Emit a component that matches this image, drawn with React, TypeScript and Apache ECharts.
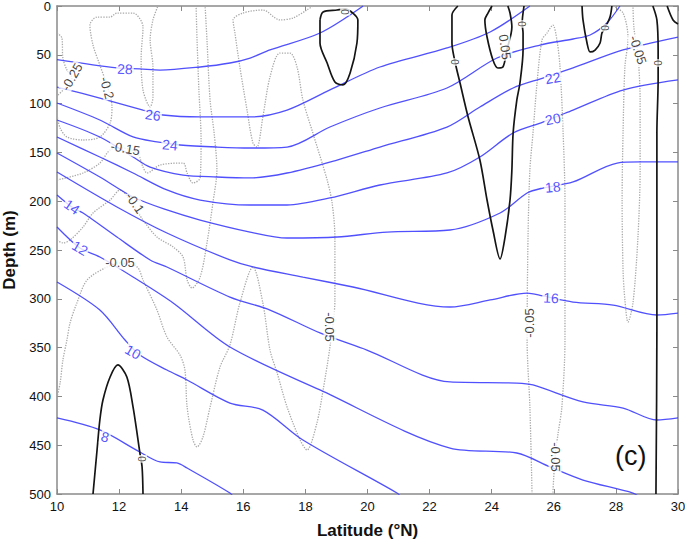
import React, { useEffect, useRef } from 'react';
import * as echarts from 'echarts';

// Axes
const LAT_MIN = 10, LAT_MAX = 30, LAT_STEP = 2;
const DEPTH_MIN = 0, DEPTH_MAX = 500, DEPTH_STEP = 50;

// Temperature isotherms [latitude, depth]
const t28 = [[10,55],[11.93,63.5],[12.67,64.5],[13.32,65.6],[14.61,62.5],[15.57,58.4],[16.22,53.3],[16.86,45],[18.47,27.7],[19.86,0]];
const t26 = [[10,83],[11.38,94.3],[12.77,106.6],[13.41,111.7],[14.61,113.7],[16.22,113.7],[17.41,106.6],[18.79,86],[20.4,62.5],[22.56,43],[23.95,26.6],[25.23,0]];
const t24 = [[10,99.4],[11.38,116.8],[12.45,134.2],[13.22,139.3],[13.96,142.4],[15.15,144.5],[16.22,145.5],[17.41,144.5],[18.79,124],[20.4,104.5],[22.56,84],[24.17,53.3],[25.56,40],[26.62,33.8],[27.17,29.7],[27.71,17.4],[28.13,0]];
const t22 = [[10,116.8],[11.38,134.2],[12.45,154.7],[13.0,165],[14.06,173.2],[15.15,175.2],[16.22,176.2],[17.41,171.1],[19.02,157.8],[20.4,144.5],[22.56,124],[23.62,103.5],[24.69,84],[25.65,73.8],[26.62,63.5],[28.23,45],[30,31.8]];
const t20 = [[10,134.2],[11.38,154.7],[12.45,171.1],[13.54,188.5],[14.61,198.8],[16.22,203.9],[17.41,203.9],[18.79,196.7],[20.4,183.4],[22.56,171.1],[23.62,154.7],[24.69,130.1],[25.65,118.9],[26.62,106.6],[28.23,86.1],[30,75.8]];
const t18 = [[10,150.6],[11.38,175.2],[12.45,195.7],[13.54,209],[14.61,219.3],[16.22,231.6],[17.41,237.7],[19.02,236.7],[20.63,231.6],[22.66,229.5],[24.27,212.1],[25.14,191.6],[25.65,186.5],[26.62,180.3],[28.04,160.9],[28.78,159.8],[30,159.8]];
const t16 = [[10,170.1],[11.93,205.9],[13.54,232.6],[15.57,260.2],[16.31,267.4],[17.92,277.7],[19.53,287.9],[22.66,308.4],[23.95,301.2],[25.14,294.1],[25.65,297.1],[26.62,303.3],[27.91,306.4],[29.32,316.6],[30,314.6]];
const t14 = [[10,193.6],[10.48,205.9],[10.84,212.1],[11.93,236.7],[13.0,260.2],[13.54,267.4],[15.57,298.2],[16.86,311.5],[18.47,335],[19.98,352.5],[22.66,385.2],[24.81,386.3],[25.33,388.3],[26.94,405.7],[28.23,411.9],[29.32,424.2],[30,422.1]];
const t12 = [[10,226.4],[10.74,248],[11.38,257.2],[12.45,277.7],[13.74,304.3],[15.57,349.4],[18.47,393.4],[22.66,452.9],[24.81,458],[25.88,472.3],[26.94,485.7],[28.55,499],[28.8,504]];
const t10 = [[10,282.8],[11.38,311.5],[12.19,342.2],[12.67,357.6],[13.54,373],[14.19,383.2],[15.57,406.8],[16.63,414],[17.92,444.7],[20.95,499],[21.1,504]];
const t08 = [[10,422.1],[11.38,434.4],[12.67,457],[13.32,467.2],[13.86,468.2],[14.19,473.4],[15.57,499],[15.7,504]];
const isotherms = [t28, t26, t24, t22, t20, t18, t16, t14, t12, t10, t08];

// Zero / positive contours (solid black)
const z1 = [[18.47,14.3],[18.57,6.1],[19.02,4.1],[19.28,3.1],[19.53,7.2],[19.69,14.3],[19.66,37.9],[19.44,68.6],[19.21,80.9],[18.95,77.9],[18.7,58.4],[18.47,37.9],[18.47,14.3]];
const z2 = [[22.91,0],[22.72,9.2],[22.72,37.9],[22.82,57.4],[22.98,78.9],[23.24,113.7],[23.62,157.8],[23.85,198.8],[24.04,229.5],[24.27,259.2],[24.43,236.7],[24.59,198.8],[24.65,168],[24.69,130.1],[24.81,96.3],[24.91,78.9],[25.01,45.1],[25.01,27.7],[24.98,18.4],[25.04,0]];
const z3 = [[24.01,0],[23.88,7.2],[23.78,14.3],[23.85,31.8],[24.04,55.3],[24.2,63.5],[24.36,62.5],[24.49,45.1],[24.65,21.5],[24.59,7.2],[24.52,0]];
const z4 = [[26.91,0],[26.94,14.3],[27.07,37.9],[27.17,47.1],[27.33,45.1],[27.49,37.9],[27.55,27.7],[27.65,22.5],[27.81,11.3],[27.87,0]];
const z5 = [[29.19,0],[29.32,14.3],[29.36,45.1],[29.36,75.8],[29.32,130.1],[29.32,332],[29.29,500]];
const z6 = [[29.65,0],[29.84,14.3],[30,18.4]];
const z7 = [[11.16,500],[11.29,454.9],[11.38,424.2],[11.48,403.7],[11.71,380.1],[11.96,367.8],[12.25,380.1],[12.45,410.9],[12.61,444.7],[12.67,458],[12.74,472.3],[12.77,500]];
const zeroContours = [z1, z2, z3, z4, z5, z6, z7];

// Negative contours (dotted grey)
const g25 = [[10,27.7],[10.16,32.8],[10.19,53.3],[10.32,65.6],[10.48,73.8],[10.26,84],[10,92.2]];
const g20 = [[10,111.7],[10.1,125],[10.32,134.2],[10.84,137.3],[11.38,134.2],[11.71,119.9],[11.77,103.5],[11.64,84],[11.38,60.5],[11.16,40],[11.06,19.5],[11.29,11.3],[11.71,11.3],[11.93,7.2],[12.45,7.2],[12.77,21.5],[12.71,52.3],[12.77,86.1],[13.0,103.5],[13.09,93.2],[13.09,62.5],[13.0,34.8],[13.09,14.3],[13.25,0]];
const g15 = [[10,178.3],[10.84,171.1],[11.38,160.9],[11.71,147.5],[12.09,145.5],[12.58,150.6],[12.77,165],[12.9,171.1],[13.32,162.9],[14.06,160.9],[14.19,171.1],[14.38,181.4],[14.61,176.2],[14.64,137.3],[14.57,86.1],[14.51,34.8],[14.48,0]];
const g10 = [[10,239.8],[10.19,242.8],[10.42,239.8],[10.84,226.4],[11.16,212.1],[11.71,198.8],[12.03,188.5],[12.45,203.9],[12.77,219.3],[13.22,236.7],[13.74,246.9],[14.06,257.2],[14.19,280.7],[14.35,288.9],[14.61,277.7],[14.83,242.8],[15.02,201.8],[15.15,168],[15.06,130.1],[14.93,96.3],[14.83,34.8],[14.77,0]];
const g05a = [[18.24,0],[18.05,4.1],[17.6,12.3],[17.18,14.3],[16.63,4.1],[15.99,7.2],[15.67,14.3],[15.73,27.7],[15.89,62.5],[16.12,106.6],[16.31,140.4],[16.44,144.5],[16.63,113.7],[16.86,72.7],[17.18,48.2],[17.5,48.2],[17.73,62.5],[17.92,96.3],[18.24,130.1],[18.7,178.3],[18.86,201.8],[18.95,236.7],[18.95,301.2],[18.79,349.4],[18.57,393.4],[18.37,427.3],[18.05,454.9],[17.83,444.7],[17.41,410.9],[17.09,376],[16.86,352.5],[16.63,304.3],[16.31,267.4],[15.89,304.3],[15.57,347.3],[15.25,369.9],[14.93,410.9],[14.7,441.6],[14.51,451.8],[14.38,444.7],[14.19,410.9],[14.12,373],[13.96,357.6],[13.54,339.1],[13.22,311.5],[12.77,280.7],[12.58,267.4],[12.03,263.3],[11.61,267.4],[10.97,280.7],[10.64,304.3],[10.42,324.8],[10.32,342.2],[10.19,362.7],[10.1,386.3],[10,400.6]];
const g05b = [[25.3,500],[25.23,410.9],[25.14,342.2],[25.17,236.7],[25.23,168],[25.33,130.1],[25.46,78.9],[25.62,34.8],[25.78,27.7],[25.97,19.5],[26.1,34.8],[26.2,62.5],[26.3,130.1],[26.36,198.8],[26.36,270.5],[26.36,342.2],[26.26,410.9],[26.14,437.5],[26.04,462.1],[25.97,500]];
const g05c = [[27.91,0],[28.23,7.2],[28.39,32.8],[28.29,62.5],[28.23,130.1],[28.2,198.8],[28.23,270.5],[28.29,301.2],[28.39,323.8],[28.55,304.3],[28.71,236.7],[28.78,168],[28.78,96.3],[28.74,62.5],[28.68,43],[28.58,22.5],[28.55,0]];
const negContours = [g25, g20, g15, g10, g05a, g05b, g05c];

// Contour labels: text, [latitude, depth], angle
const isoLabels = [
  ['28', [12.19, 64.5], -2], ['26', [13.09, 111.7], -8], ['24', [13.64, 142.4], -5],
  ['22', [25.97, 73.8], 10], ['20', [25.97, 115.8], 12], ['18', [25.97, 185.5], 5],
  ['16', [25.91, 299.2], -3], ['14', [10.48, 205.9], -35], ['12', [10.74, 248], -30],
  ['10', [12.45, 354.5], -30], ['8', [11.55, 441.6], -15],
];
const velLabels = [
  ['-0.25', [10.48, 72.7], 60], ['-0.2', [11.61, 84], -75], ['-0.15', [12.2, 146], -10],
  ['-0.1', [12.51, 201.8], -55], ['-0.05', [12.03, 263.3], 0], ['-0.05', [18.79, 328.9], -90],
  ['-0.05', [25.23, 324.8], 90], ['-0.05', [26.04, 462.1], -90], ['-0.05', [28.71, 45.1], -72],
  ['0.05', [24.43, 42], -82],
  ['0', [19.28, 6], 90], ['0', [22.82, 57.4], 90], ['0', [24.98, 18.4], 90],
  ['0', [27.65, 22.5], 90], ['0', [29.36, 58.4], 90], ['0', [12.74, 464], 90],
];

const FONT = 'Liberation Sans, Arial, Helvetica, sans-serif';
const FRAME = '#8a8a8a';

function lineSeries(data: number[][], color: string, width: number, type: string, z: number, opacity = 1) {
  return {
    type: 'line', data, symbol: 'none', showSymbol: false, smooth: 0.3, silent: true, z,
    clip: true, lineStyle: { color, width, type, opacity },
  };
}

function labelSeries(items: any[], color: string, size: number) {
  return {
    type: 'scatter', symbolSize: 0, silent: true, z: 10,
    data: items.map(([t, p, r]) => ({
      name: t, value: p,
      label: { show: true, position: 'inside', formatter: '{b}', rotate: r, color, fontSize: t === '0' ? 10 : size, fontFamily: FONT, backgroundColor: '#ffffff', padding: [0, 1] },
    })),
  };
}

function axisCommon(pos: string, showLabel: boolean) {
  return {
    type: 'value', position: pos,
    axisLine: { show: true, onZero: false, lineStyle: { color: FRAME, width: 1.5 } },
    axisTick: { show: true, inside: true, length: 5, lineStyle: { color: FRAME, width: 1 } },
    axisLabel: { show: showLabel, color: '#111', fontSize: 13, fontFamily: FONT, margin: 6 },
    splitLine: { show: false },
  };
}

export default function App() {
  const ref = useRef<HTMLDivElement>(null);
  useEffect(() => {
    if (!ref.current) return;
    const chart = echarts.init(ref.current, undefined, { renderer: 'svg' });
    const series: any[] = [];
    negContours.forEach((d) => series.push(lineSeries(d, '#a9a9a9', 1.3, 'dotted', 2)));
    isotherms.forEach((d) => series.push(lineSeries(d, '#3d3dff', 1.3, 'solid', 3, 0.9)));
    zeroContours.forEach((d) => series.push(lineSeries(d, '#151515', 1.7, 'solid', 4)));
    series.push(labelSeries(isoLabels, '#2a2aff', 14));
    series.push(labelSeries(velLabels, '#111111', 13));
    chart.setOption({
      animation: false,
      backgroundColor: '#ffffff',
      grid: { left: 57, right: 7, top: 6, bottom: 48, containLabel: false, outerBoundsMode: 'none' },
      xAxis: [
        { ...axisCommon('bottom', true), min: LAT_MIN, max: LAT_MAX, interval: LAT_STEP,
          name: 'Latitude (°N)', nameLocation: 'middle', nameGap: 28,
          nameTextStyle: { fontSize: 17, fontWeight: 'bold', color: '#111', fontFamily: FONT } },
        { ...axisCommon('top', false), min: LAT_MIN, max: LAT_MAX, interval: LAT_STEP },
      ],
      yAxis: [
        { ...axisCommon('left', true), min: DEPTH_MIN, max: DEPTH_MAX, interval: DEPTH_STEP, inverse: true,
          name: 'Depth (m)', nameLocation: 'middle', nameGap: 39, nameRotate: 90,
          nameTextStyle: { fontSize: 17, fontWeight: 'bold', color: '#111', fontFamily: FONT } },
        { ...axisCommon('right', false), min: DEPTH_MIN, max: DEPTH_MAX, interval: DEPTH_STEP, inverse: true },
      ],
      graphic: [
        { type: 'text', left: 615, top: 442, z: 20, style: { text: '(c)', fontSize: 27, fill: '#111', fontFamily: FONT } },
      ],
      series,
    });
    return () => chart.dispose();
  }, []);
  return <div ref={ref} style={{ position: 'absolute', left: 0, top: 0, width: 685, height: 542 }} />;
}
